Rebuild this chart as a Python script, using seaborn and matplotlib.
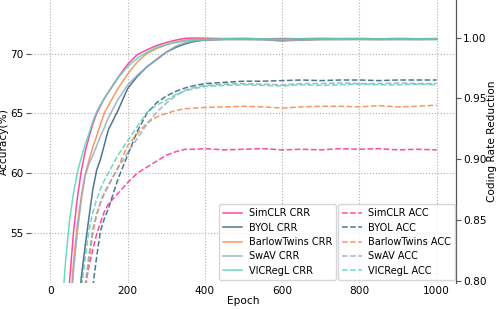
import matplotlib
matplotlib.use("Agg")
import matplotlib.pyplot as plt
import seaborn as sns
import pandas as pd

epochs = [0, 10, 20, 30, 40, 50, 60, 70, 80, 90, 100, 110, 120, 130, 140, 150,
          175, 200, 225, 250, 275, 300, 325, 350, 375, 400,
          450, 500, 550, 600, 650, 700, 750, 800, 850, 900, 950, 1000]

methods = ["SimCLR", "BYOL", "BarlowTwins", "SwAV", "VICRegL"]
colors = ["#ff2a96", "#2f5f80", "#f5874c", "#93a8bd", "#52d5b3"]

# Coding rate reduction (right axis)
crr_simclr = [0.40, 0.50, 0.60, 0.685, 0.750, 0.800, 0.840, 0.868, 0.890, 0.906, 0.918, 0.929, 0.9375, 0.944, 0.950, 0.955,
              0.967, 0.978, 0.986, 0.990, 0.9935, 0.996, 0.998, 0.9995, 0.9997, 0.9995,
              0.9992, 0.9994, 0.9990, 0.9993, 0.9991, 0.9994, 0.9992, 0.9993, 0.9990, 0.9993, 0.9991, 0.9992]
crr_byol = [0.20, 0.30, 0.40, 0.49, 0.57, 0.64, 0.70, 0.755, 0.802, 0.828, 0.852, 0.875, 0.891, 0.900, 0.912, 0.924,
            0.940, 0.958, 0.968, 0.976, 0.982, 0.988, 0.992, 0.995, 0.997, 0.998,
            0.9985, 0.9987, 0.9985, 0.9975, 0.9984, 0.9986, 0.9985, 0.9987, 0.9985, 0.9986, 0.9985, 0.9986]
crr_barlow = [0.30, 0.40, 0.50, 0.60, 0.69, 0.770, 0.815, 0.846, 0.869, 0.887, 0.899, 0.910, 0.919, 0.929, 0.938, 0.944,
              0.958, 0.970, 0.980, 0.987, 0.991, 0.994, 0.9965, 0.998, 0.9985, 0.9988,
              0.9987, 0.9985, 0.9986, 0.9980, 0.9978, 0.9985, 0.9987, 0.9986, 0.9985, 0.9987, 0.9986, 0.9987]
crr_swav = [0.30, 0.40, 0.50, 0.60, 0.69, 0.762, 0.808, 0.840, 0.866, 0.886, 0.896, 0.903, 0.911, 0.919, 0.926, 0.934,
            0.949, 0.961, 0.969, 0.976, 0.982, 0.988, 0.993, 0.996, 0.9975, 0.998,
            0.9985, 0.9984, 0.9982, 0.9972, 0.9980, 0.9984, 0.9985, 0.9984, 0.9985, 0.9984, 0.9985, 0.9985]
crr_vicregl = [0.50, 0.60, 0.69, 0.775, 0.818, 0.850, 0.872, 0.889, 0.901, 0.912, 0.921, 0.931, 0.939, 0.945, 0.950, 0.955,
               0.967, 0.976, 0.983, 0.988, 0.992, 0.9945, 0.996, 0.9972, 0.998, 0.9985,
               0.9990, 0.9992, 0.9990, 0.9988, 0.9991, 0.9992, 0.9991, 0.9992, 0.9991, 0.9992, 0.9991, 0.9992]

# Linear probe accuracy (left axis)
acc_simclr = [30, 33, 36, 38.5, 41, 43, 45, 47, 48.8, 50.5, 52.2, 53.6, 54.9, 55.9, 56.8, 57.4,
              58.3, 59.2, 60.0, 60.5, 61.0, 61.5, 61.8, 62.0, 62.0, 62.05,
              61.95, 62.0, 62.05, 61.95, 62.0, 61.95, 62.05, 62.0, 62.05, 61.95, 62.0, 61.95]
acc_byol = [25, 28, 31, 34, 37, 39.5, 42, 44, 46, 48, 49.5, 50.5, 53.0, 55.2, 56.2, 57.0,
            59.5, 61.5, 63.5, 65.0, 65.9, 66.45, 66.85, 67.15, 67.35, 67.5,
            67.6, 67.7, 67.7, 67.75, 67.8, 67.75, 67.8, 67.8, 67.75, 67.8, 67.8, 67.8]
acc_barlow = [28, 31, 34, 37, 40, 42.5, 44.5, 46.3, 48.2, 50.0, 52.5, 55.0, 56.5, 57.5, 58.3, 58.9,
              60.5, 62.3, 63.3, 64.2, 64.7, 65.0, 65.25, 65.4, 65.45, 65.5,
              65.55, 65.6, 65.55, 65.45, 65.55, 65.6, 65.6, 65.55, 65.65, 65.55, 65.6, 65.7]
acc_swav = [28, 31, 34, 37, 40, 42.5, 44.5, 46.5, 48.5, 50.5, 53.2, 55.3, 56.6, 57.6, 58.4, 59.0,
            60.4, 61.7, 62.9, 64.1, 65.1, 65.85, 66.5, 66.95, 67.2, 67.35,
            67.45, 67.5, 67.45, 67.4, 67.5, 67.5, 67.55, 67.5, 67.5, 67.55, 67.5, 67.5]
acc_vicregl = [30, 33, 36, 39, 42, 44.5, 46.5, 48.5, 50.3, 52.8, 55.2, 56.7, 57.8, 58.7, 59.4, 60.0,
               61.5, 62.7, 63.9, 65.1, 65.7, 66.1, 66.6, 66.9, 67.1, 67.25,
               67.35, 67.4, 67.35, 67.3, 67.4, 67.35, 67.4, 67.45, 67.4, 67.4, 67.45, 67.4]

crr = [crr_simclr, crr_byol, crr_barlow, crr_swav, crr_vicregl]
acc = [acc_simclr, acc_byol, acc_barlow, acc_swav, acc_vicregl]

x_ticks = [0, 200, 400, 600, 800, 1000]
left_ticks = [55, 60, 65, 70]
right_ticks = [0.80, 0.85, 0.90, 0.95, 1.00]

plt.rcParams["font.family"] = ["DejaVu Sans"]

fig = plt.figure(figsize=(4.98, 3.09), dpi=100)
ax1 = fig.add_axes([31 / 498, (309 - 283) / 309, 425 / 498, 283 / 309])
ax2 = ax1.twinx()

for m, c, vals in zip(methods, colors, acc):
    df = pd.DataFrame({"Epoch": epochs, "val": vals})
    sns.lineplot(data=df, x="Epoch", y="val", ax=ax1, color=c, linestyle="--",
                 linewidth=1.1, alpha=0.85, label=f"{m} ACC", legend=False)
acc_handles = ax1.get_lines()

for m, c, vals in zip(methods, colors, crr):
    df = pd.DataFrame({"Epoch": epochs, "val": vals})
    sns.lineplot(data=df, x="Epoch", y="val", ax=ax2, color=c, linestyle="-",
                 linewidth=1.1, alpha=0.85, label=f"{m} CRR", legend=False)
crr_handles = ax2.get_lines()

ax1.set_xlim(-50, 1050)
ax1.set_ylim(50.8, 74.5)
ax2.set_ylim(0.798, 1.031)
ax1.set_xticks(x_ticks)
ax1.set_yticks(left_ticks)
ax2.set_yticks(right_ticks)
ax2.set_yticklabels([f"{t:.2f}" for t in right_ticks])

ax1.grid(True, linestyle=":", color="#b0b0b0", linewidth=0.8)
ax1.set_axisbelow(True)

for ax in (ax1, ax2):
    for s in ("top", "left", "bottom"):
        ax.spines[s].set_visible(False)
ax1.spines["right"].set_visible(False)
ax2.spines["right"].set_color("#555555")
ax2.spines["right"].set_linewidth(0.9)

ax1.tick_params(axis="x", length=0, pad=2, labelsize=7.6)
ax1.tick_params(axis="y", length=3.5, width=0.8, color="#555555", pad=2, labelsize=7.6)
ax2.tick_params(axis="y", length=3.5, width=0.8, color="#555555", pad=1.5, labelsize=7.6)

ax1.set_xlabel("Epoch", fontsize=7.6, labelpad=0)
ax1.set_ylabel("Accuracy(%)", fontsize=7.6, labelpad=0.5)
ax2.set_ylabel("Coding Rate Reduction", fontsize=7.6, labelpad=0.5)

leg1 = ax2.legend(handles=crr_handles, labels=[f"{m} CRR" for m in methods],
                  loc="lower right", bbox_to_anchor=(0.718, 0.012), borderaxespad=0,
                  fontsize=7, frameon=True, handlelength=2.0, handletextpad=0.7,
                  labelspacing=0.45)
ax2.add_artist(leg1)
leg2 = ax2.legend(handles=acc_handles, labels=[f"{m} ACC" for m in methods],
                  loc="lower right", bbox_to_anchor=(0.998, 0.012), borderaxespad=0,
                  fontsize=7, frameon=True, handlelength=2.0, handletextpad=0.7,
                  labelspacing=0.45)

fig.savefig("out.png", dpi=100)
